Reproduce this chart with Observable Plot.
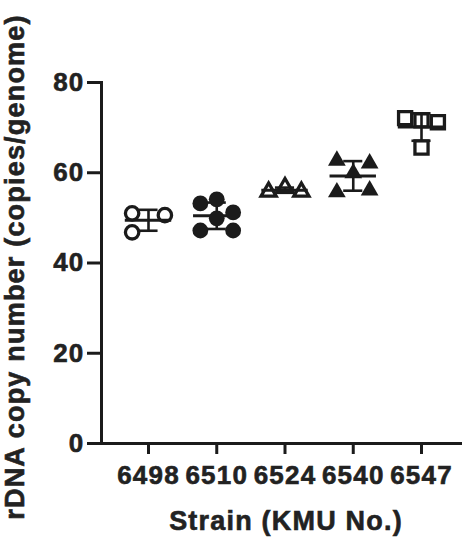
<!DOCTYPE html>
<html>
<head>
<meta charset="utf-8">
<script src="https://cdn.jsdelivr.net/npm/d3@7"></script>
<script src="https://cdn.jsdelivr.net/npm/@observablehq/plot@0.6"></script>
<style>
  html, body { margin: 0; padding: 0; background: #fff; }
  #chart svg { display: block; }
</style>
</head>
<body>
<div id="chart"></div>
<script>
// Strains (categories)
const strains = ["6498", "6510", "6524", "6540", "6547"];
// Per-strain replicate values (copies/genome)
const v6498 = [51.0, 46.8, 50.6];
const v6510 = [53.2, 54.1, 49.9, 51.2, 47.2, 47.2];
const v6524 = [55.8, 56.8, 55.8];
const v6540 = [62.7, 62.1, 59.9, 55.7, 56.1];
const v6547 = [72.1, 71.6, 71.2, 65.6];
// Horizontal slot of each replicate within its group (scatter layout)
const s6498 = [-1, -1, 1];
const s6510 = [-1, 0, 0, 1, -1, 1];
const s6524 = [-1, 0, 1];
const s6540 = [-1, 1, 0, -1, 1];
const s6547 = [-1, 0, 1, 0];
// Marker per strain
const symbols = ["circle", "circle", "triangle", "triangle", "square"];
const filled = [false, true, false, true, false];
const yTicks = [0, 20, 40, 60, 80];
const xTitle = "Strain (KMU No.)";
const yTitle = "rDNA copy number (copies/genome)";

const values = [v6498, v6510, v6524, v6540, v6547];
const slots = [s6498, s6510, s6524, s6540, s6547];
const slotWidth = 0.24;
const ink = "#1b1b1b";

const points = [];
values.forEach((vals, i) => vals.forEach((v, j) => points.push({
  i, strain: strains[i], value: v, pos: i + slots[i][j] * slotWidth,
  symbol: symbols[i], filled: filled[i]
})));
const stats = values.map((vals, i) => {
  const m = d3.mean(vals), sd = d3.deviation(vals);
  return {i, mean: m, lo: m - sd, hi: m + sd};
});

const dotStyle = (f, sym) => ({
  x: "pos", y: "value", symbol: "symbol",
  r: sym === "circle" ? (f ? 7.9 : 6.7) : sym === "triangle" ? (f ? 6.6 : 5.6) : 7.4,
  fill: f ? ink : "none", stroke: ink, strokeWidth: f ? 0 : 3.3
});

const marks = [];
for (const sym of ["circle", "triangle", "square"]) {
  for (const f of [false, true]) {
    const d = points.filter(p => p.symbol === sym && p.filled === f);
    if (d.length) marks.push(Plot.dot(d, dotStyle(f, sym)));
  }
}

const chart = Plot.plot({
  width: 462, height: 539,
  marginLeft: 101, marginRight: 0, marginTop: 82, marginBottom: 96,
  x: {type: "linear", domain: [0, 4], range: [148, 421]},
  y: {domain: [0, 80]},
  symbol: {domain: ["circle", "triangle", "square"], range: ["circle", "triangle", "square"]},
  style: {fontFamily: "'Liberation Sans', Arial, sans-serif", fontWeight: "bold", color: "#222", background: "#fff"},
  marks: [
    // SD error bars
    Plot.ruleX(stats, {x: "i", y1: "lo", y2: "hi", stroke: ink, strokeWidth: 2.6}),
    Plot.ruleY(stats, {y: "hi", x1: d => d.i - 0.14, x2: d => d.i + 0.14, stroke: ink, strokeWidth: 2.6}),
    Plot.ruleY(stats, {y: "lo", x1: d => d.i - 0.14, x2: d => d.i + 0.14, stroke: ink, strokeWidth: 2.6}),
    // mean
    Plot.ruleY(stats, {y: "mean", x1: d => d.i - 0.34, x2: d => d.i + 0.34, stroke: ink, strokeWidth: 3}),
    ...marks,
    // axes
    Plot.axisY({ticks: yTicks, tickSize: 14, tickPadding: 3, fontSize: 26, strokeWidth: 3, stroke: ink, fill: "#222", label: null}),
    Plot.axisX({ticks: [0, 1, 2, 3, 4], tickFormat: i => strains[i], tickSize: 11, tickPadding: 11, fontSize: 26, strokeWidth: 3, stroke: ink, fill: "#222", label: null}),
    Plot.frame({anchor: "left", stroke: ink, strokeWidth: 3}),
    Plot.frame({anchor: "bottom", stroke: ink, strokeWidth: 3}),
    Plot.text([xTitle], {frameAnchor: "bottom", dy: 78, dx: 4, lineAnchor: "middle", textAnchor: "middle", fontSize: 27, fontWeight: "bold", fill: "#222"}),
    Plot.text([yTitle], {frameAnchor: "left", dx: -86, dy: 4, rotate: -90, lineAnchor: "middle", textAnchor: "middle", fontSize: 27, fontWeight: "bold", fill: "#222"})
  ]
});
// Heavier text to match the reference's dense bold face
d3.select(chart).selectAll("g[aria-label$='tick label'] text")
  .style("font-size", "26px").style("letter-spacing", "1.2px")
  .style("stroke", "#222").style("stroke-width", "0.6px");
d3.select(chart).selectAll("g[aria-label='text'] text")
  .style("letter-spacing", "1.2px")
  .style("stroke", "#222").style("stroke-width", "0.6px");
document.getElementById("chart").appendChild(chart);
</script>
</body>
</html>
